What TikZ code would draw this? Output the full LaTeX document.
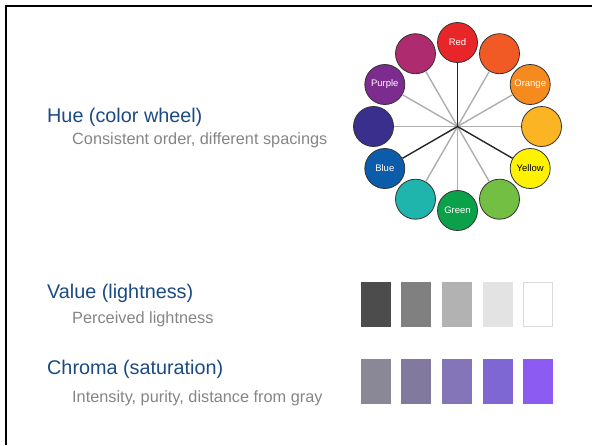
\documentclass[tikz,border=0pt]{standalone}
\usepackage{fontspec}
\setmainfont{Liberation Sans}
\definecolor{headblue}{HTML}{1B4A82}
\definecolor{subgray}{HTML}{858585}
\definecolor{wRed}{HTML}{E8262A}
\definecolor{wRedOrange}{HTML}{F15A24}
\definecolor{wOrange}{HTML}{F58A1F}
\definecolor{wYellowOrange}{HTML}{FBB424}
\definecolor{wYellow}{HTML}{FFF200}
\definecolor{wYellowGreen}{HTML}{72BF44}
\definecolor{wGreen}{HTML}{0BA14B}
\definecolor{wTeal}{HTML}{1FB5AD}
\definecolor{wBlue}{HTML}{0B5CAB}
\definecolor{wIndigo}{HTML}{3A2F8C}
\definecolor{wPurple}{HTML}{7B2C8E}
\definecolor{wMagenta}{HTML}{AE2B70}
\begin{document}
\begin{tikzpicture}[x=1pt,y=-1pt,
  hue/.style={circle,draw=black!80,line width=0.8pt,minimum size=40pt,inner sep=0pt,
    font=\fontsize{9.5}{9.5}\selectfont,text=white},
  spoke/.style={draw=black!32,line width=1.4pt},
  triad/.style={draw=black!85,line width=1.4pt},
  head/.style={anchor=base west,inner sep=0pt,text=headblue,font=\fontsize{19.8}{19.8}\selectfont},
  sub/.style={anchor=base west,inner sep=0pt,text=subgray,font=\fontsize{16.3}{16.3}\selectfont},
  swatch/.style={minimum width=30pt,minimum height=45pt,inner sep=0pt}]
\useasboundingbox (0,0) rectangle (592,445);
\draw[line width=2pt] (6,445) -- (6,6) -- (592,6);

\node[head] (huehead) at (47,122) {Hue (color wheel)};
\node[sub] (huesub) at (72,144) {Consistent order, different spacings};
\node[head] (valhead) at (47,298) {Value (lightness)};
\node[sub] (valsub) at (72,323) {Perceived lightness};
\node[head] (chrhead) at (47,374) {Chroma (saturation)};
\node[sub] (chrsub) at (72,402) {Intensity, purity, distance from gray};

\coordinate (hub) at (457.5,126.5);
\node[hue,fill=wRed] (red) at (457.5,42.5) {Red};
\node[hue,fill=wRedOrange] (redorange) at (499.5,53.7) {};
\node[hue,fill=wOrange] (orange) at (530.2,84.5) {Orange};
\node[hue,fill=wYellowOrange] (yelloworange) at (541.5,126.5) {};
\node[hue,fill=wYellow,text=black] (yellow) at (530.2,168.5) {Yellow};
\node[hue,fill=wYellowGreen] (yellowgreen) at (499.5,199.2) {};
\node[hue,fill=wGreen] (green) at (457.5,210.5) {Green};
\node[hue,fill=wTeal] (teal) at (415.5,199.2) {};
\node[hue,fill=wBlue] (blue) at (384.8,168.5) {Blue};
\node[hue,fill=wIndigo] (indigo) at (373.5,126.5) {};
\node[hue,fill=wPurple] (purple) at (384.8,84.5) {Purple};
\node[hue,fill=wMagenta] (magenta) at (415.5,53.7) {};
\draw[spoke] (hub) -- (redorange);
\draw[spoke] (hub) -- (orange);
\draw[spoke] (hub) -- (yelloworange);
\draw[spoke] (hub) -- (yellowgreen);
\draw[spoke] (hub) -- (green);
\draw[spoke] (hub) -- (teal);
\draw[spoke] (hub) -- (indigo);
\draw[spoke] (hub) -- (purple);
\draw[spoke] (hub) -- (magenta);
\draw[triad] (hub) -- (red);
\draw[triad] (hub) -- (yellow);
\draw[triad] (hub) -- (blue);

\node[swatch,fill=black!70] (val1) at (376,304.5) {};
\node[swatch,fill=black!50] (val2) at (416,304.5) {};
\node[swatch,fill=black!30] (val3) at (457,304.5) {};
\node[swatch,fill=black!11] (val4) at (498,304.5) {};
\node[swatch,fill=white,draw=black!15,line width=1.2pt,minimum width=29pt,minimum height=44pt] (val5) at (538,304.5) {};

\node[swatch,fill={rgb,255:red,138;green,135;blue,150}] (chr1) at (376,381.5) {};
\node[swatch,fill={rgb,255:red,130;green,122;blue,158}] (chr2) at (416,381.5) {};
\node[swatch,fill={rgb,255:red,132;green,117;blue,184}] (chr3) at (457,381.5) {};
\node[swatch,fill={rgb,255:red,126;green,103;blue,210}] (chr4) at (498,381.5) {};
\node[swatch,fill={rgb,255:red,140;green,92;blue,242}] (chr5) at (538,381.5) {};
\end{tikzpicture}
\end{document}
